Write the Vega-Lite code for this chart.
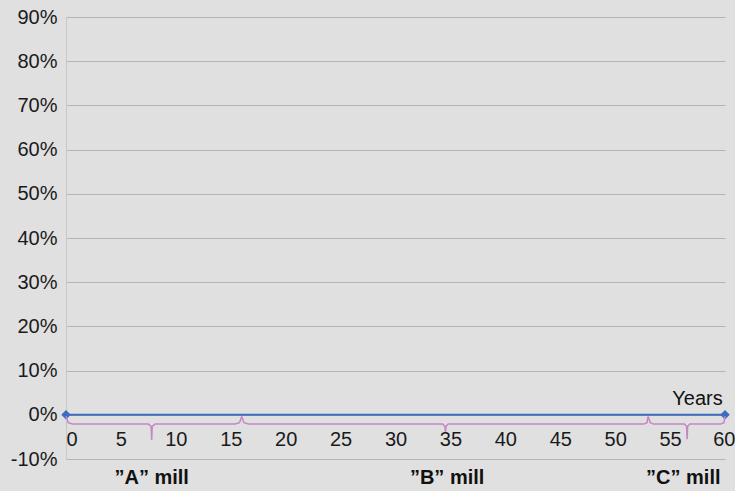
{
  "$schema": "https://vega.github.io/schema/vega-lite/v6.json",
  "width": 659,
  "height": 442,
  "autosize": {"type": "none"},
  "padding": {"left": 66, "top": 17, "right": 10, "bottom": 32},
  "background": "#e0e0e0",
  "config": {
    "view": {"stroke": null},
    "font": "Liberation Sans",
    "axis": {"labelFont": "Liberation Sans", "labelColor": "#1a1a1a", "labelFontSize": 20}
  },
  "datasets": {
    "series": [
      {"year": 0, "value": 0},
      {"year": 60, "value": 0}
    ],
    "braces": [
      {"mill": "A", "order": 1, "year": 0, "value": -0.3},
      {"mill": "A", "order": 2, "year": 0.2, "value": -1.8},
      {"mill": "A", "order": 3, "year": 0.6, "value": -2.1},
      {"mill": "A", "order": 4, "year": 7.5, "value": -2.1},
      {"mill": "A", "order": 5, "year": 7.75, "value": -2.6},
      {"mill": "A", "order": 6, "year": 7.8, "value": -5.7},
      {"mill": "A", "order": 7, "year": 7.85, "value": -2.6},
      {"mill": "A", "order": 8, "year": 8.1, "value": -2.1},
      {"mill": "A", "order": 9, "year": 15.4, "value": -2.1},
      {"mill": "A", "order": 10, "year": 15.8, "value": -1.8},
      {"mill": "A", "order": 11, "year": 16, "value": -0.4},
      {"mill": "B", "order": 1, "year": 16, "value": -0.4},
      {"mill": "B", "order": 2, "year": 16.2, "value": -1.8},
      {"mill": "B", "order": 3, "year": 16.6, "value": -2.1},
      {"mill": "B", "order": 4, "year": 34.3, "value": -2.1},
      {"mill": "B", "order": 5, "year": 34.5, "value": -2.6},
      {"mill": "B", "order": 6, "year": 34.55, "value": -3.9},
      {"mill": "B", "order": 7, "year": 34.6, "value": -2.6},
      {"mill": "B", "order": 8, "year": 34.8, "value": -2.1},
      {"mill": "B", "order": 9, "year": 52.6, "value": -2.1},
      {"mill": "B", "order": 10, "year": 52.9, "value": -1.8},
      {"mill": "B", "order": 11, "year": 53, "value": -0.4},
      {"mill": "C", "order": 1, "year": 53, "value": -0.4},
      {"mill": "C", "order": 2, "year": 53.2, "value": -1.8},
      {"mill": "C", "order": 3, "year": 53.5, "value": -2.1},
      {"mill": "C", "order": 4, "year": 56.3, "value": -2.1},
      {"mill": "C", "order": 5, "year": 56.5, "value": -2.6},
      {"mill": "C", "order": 6, "year": 56.55, "value": -5.5},
      {"mill": "C", "order": 7, "year": 56.6, "value": -2.6},
      {"mill": "C", "order": 8, "year": 56.8, "value": -2.1},
      {"mill": "C", "order": 9, "year": 59.6, "value": -2.1},
      {"mill": "C", "order": 10, "year": 59.9, "value": -1.8},
      {"mill": "C", "order": 11, "year": 60, "value": -0.3}
    ],
    "mills": [
      {"year": 7.8, "value": -14.3, "label": "”A” mill"},
      {"year": 34.7, "value": -14.3, "label": "”B” mill"},
      {"year": 56.2, "value": -14.3, "label": "”C” mill"}
    ],
    "unit": [
      {"year": 57.5, "value": 3.6, "label": "Years"}
    ]
  },
  "layer": [
    {
      "data": {"name": "series"},
      "mark": {"type": "line", "color": "#3d6dbf", "strokeWidth": 2},
      "encoding": {
        "x": {
          "field": "year", "type": "quantitative",
          "scale": {"domain": [0, 60], "nice": false, "zero": false},
          "axis": {
            "orient": "bottom", "offset": -31, "values": [0,5,10,15,20,25,30,35,40,45,50,55,60],
            "grid": false, "domain": false, "ticks": false, "labelPadding": 1,
            "labelFlush": false, "title": null,
            "labelAlign": {"expr": "datum.value == 0 ? 'left' : (datum.value == 60 ? 'right' : 'center')"},
            "labelOffset": {"expr": "datum.value == 60 ? 10 : 0"}
          }
        },
        "y": {
          "field": "value", "type": "quantitative",
          "scale": {"domain": [-10, 90], "nice": false},
          "axis": {
            "values": [-10,0,10,20,30,40,50,60,70,80,90],
            "labelExpr": "datum.value + '%'",
            "grid": true, "gridColor": "#b4b4b4", "gridWidth": 1,
            "domain": true, "domainColor": "#c8c8c8",
            "ticks": false, "labelPadding": 9, "title": null
          }
        }
      }
    },
    {
      "data": {"name": "series"},
      "mark": {"type": "point", "shape": "diamond", "filled": true, "color": "#3d6dbf", "size": 90, "opacity": 1},
      "encoding": {
        "x": {"field": "year", "type": "quantitative"},
        "y": {"field": "value", "type": "quantitative"}
      }
    },
    {
      "data": {"name": "braces"},
      "mark": {"type": "line", "color": "#c884c8", "strokeWidth": 1.5},
      "encoding": {
        "x": {"field": "year", "type": "quantitative"},
        "y": {"field": "value", "type": "quantitative"},
        "detail": {"field": "mill"},
        "order": {"field": "order", "type": "quantitative"}
      }
    },
    {
      "data": {"name": "mills"},
      "mark": {"type": "text", "fontSize": 20, "fontWeight": "bold", "color": "#111111", "baseline": "middle", "align": "center"},
      "encoding": {
        "x": {"field": "year", "type": "quantitative"},
        "y": {"field": "value", "type": "quantitative"},
        "text": {"field": "label"}
      }
    },
    {
      "data": {"name": "unit"},
      "mark": {"type": "text", "fontSize": 20, "color": "#111111", "baseline": "middle", "align": "center"},
      "encoding": {
        "x": {"field": "year", "type": "quantitative"},
        "y": {"field": "value", "type": "quantitative"},
        "text": {"field": "label"}
      }
    }
  ]
}
